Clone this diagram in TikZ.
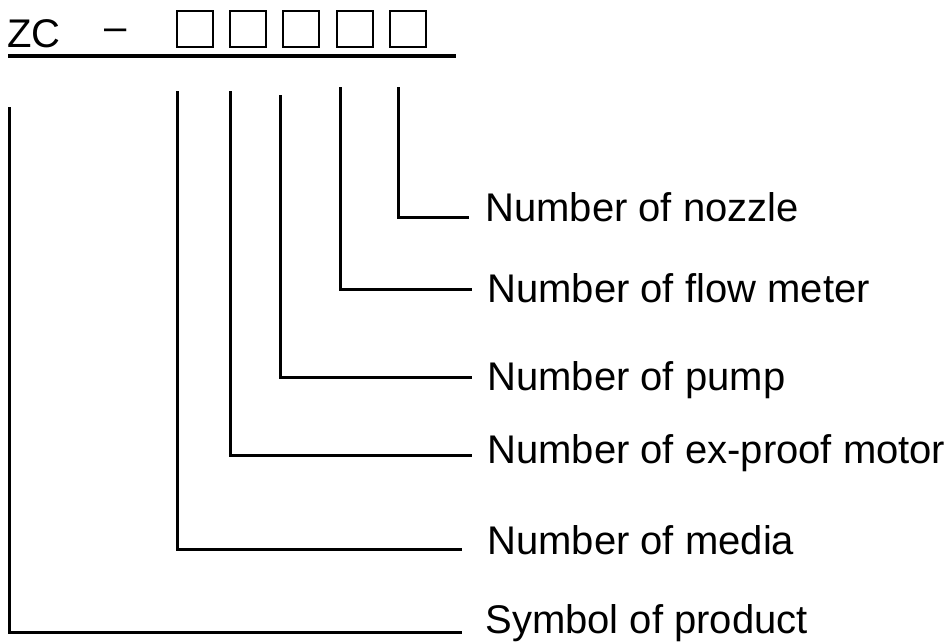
\documentclass[tikz,border=0pt]{standalone}
\usepackage{fontspec}
\setmainfont{Liberation Sans}
\usepackage{tikz}

\tikzset{
	lbl/.style={anchor=base west, inner sep=0pt, font=\fontsize{20}{24}\selectfont},
	digit/.style={draw, line width=1pt, minimum size=18pt, inner sep=0pt},
	lead/.style={line width=1.5pt}
}

\begin{document}
\begin{tikzpicture}[x=0.5pt, y=-0.5pt]
		\useasboundingbox (0,0) rectangle (945,643);
		% model code
		\node[lbl] (zc) at (7,47) {ZC};
		\node[lbl] (dash) at (104,40) {–};
		\node[digit] (d1) at (195,29) {};
		\node[digit] (d2) at (248.2,29) {};
		\node[digit] (d3) at (301.4,29) {};
		\node[digit] (d4) at (354.6,29) {};
		\node[digit] (d5) at (407.8,29) {};
		\draw[line width=2pt] (8,56) -- (456,56);
		% tops of the leads
		\coordinate (t0) at (9,107);
		\coordinate (t1) at (177,91);
		\coordinate (t2) at (230,91);
		\coordinate (t3) at (280,95);
		\coordinate (t4) at (340,87);
		\coordinate (t5) at (398,87);
		% ends of the leads
		\coordinate (e0) at (462,632);
		\coordinate (e1) at (462,549);
		\coordinate (e2) at (472,455);
		\coordinate (e3) at (472,377);
		\coordinate (e4) at (472,289);
		\coordinate (e5) at (469,217);
		\draw[lead] (t0) |- (e0);
		\draw[lead] (t1) |- (e1);
		\draw[lead] (t2) |- (e2);
		\draw[lead] (t3) |- (e3);
		\draw[lead] (t4) |- (e4);
		\draw[lead] (t5) |- (e5);
		% meanings
		\node[lbl] (nozzle) at (485,221) {Number of nozzle};
		\node[lbl] (flow) at (487,302) {Number of flow meter};
		\node[lbl] (pump) at (487,390) {Number of pump};
		\node[lbl] (motor) at (487,463) {Number of ex-proof motor};
		\node[lbl] (media) at (487,554) {Number of media};
		\node[lbl] (symbol) at (485,633) {Symbol of product};
	\end{tikzpicture}
\end{document}
